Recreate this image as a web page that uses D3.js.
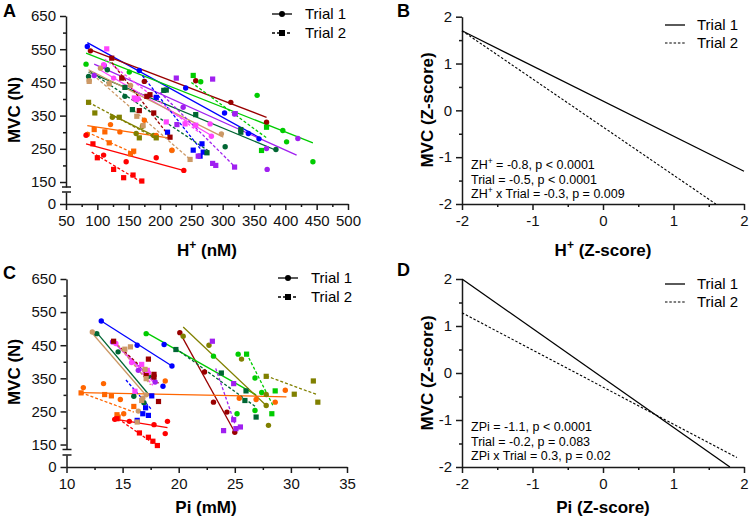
<!DOCTYPE html>
<html>
<head>
<meta charset="utf-8">
<script src="https://cdn.jsdelivr.net/npm/d3@7/dist/d3.min.js"></script>
<style>
  body { margin: 0; background: #fff; }
  svg text { font-family: "Liberation Sans", Arial, sans-serif; }
</style>
</head>
<body>
<script>
// Subject colours (same order in every array below)
const subjectColors = ["#0000ff", "#990000", "#00cc00", "#006633", "#a020f0",
                       "#ff44ff", "#cc9966", "#808000", "#ff6600", "#ff0000"];

// Panel A: H+ (nM) vs MVC (N). One list of [x, y] per subject.
const hTrial1 = [
  [[84,558],[167,486],[241,433],[303,358],[341,296],[358,280]],
  [[89,545],[175,453],[257,455],[313,390],[370,330]],
  [[82,505],[151,481],[265,452],[355,411],[396,305],[402,271],[444,211]],
  [[86,468],[116,488],[144,408],[304,256],[385,248]],
  [[95,471],[111,501],[237,375],[319,355],[370,251],[420,281],[371,188]],
  [[110,503],[126,463],[165,401],[280,325],[282,288]],
  [[87,455],[105,493],[153,441],[219,245],[298,295]],
  [[124,345],[162,296],[172,318],[190,290]],
  [[84,293],[121,323],[136,301],[175,336],[194,290],[219,246]],
  [[82,291],[110,231],[146,211],[194,223],[238,185]]
];
const hTrial2 = [
  [[194,405],[212,300],[253,246],[267,265],[269,240],[264,228]],
  [[123,523],[139,463],[167,365],[179,408],[184,413],[190,358],[216,285]],
  [[253,471],[370,315],[362,245]],
  [[144,435],[156,368],[206,426],[210,427],[257,353],[275,238],[329,308],[329,300]],
  [[226,463],[227,323],[261,228],[284,206],[289,200],[319,195],[320,356],[284,460]],
  [[115,551],[159,403],[162,398],[210,331],[240,325],[257,321]],
  [[87,453],[119,446],[163,348],[173,320],[248,218]],
  [[86,390],[96,358],[135,345],[167,283],[194,283]],
  [[95,308],[112,301],[119,268],[153,235],[158,243]],
  [[93,265],[100,223],[126,188],[142,163],[157,171],[171,153]]
];
// fitted lines: [xStart, yStart, xEnd, yEnd]
const hFit1 = [
  [84,570,360,282],[89,548,370,345],[82,538,444,268],[86,481,386,245],[95,505,418,231],
  [104,488,282,290],[86,488,301,285],[120,355,195,285],[84,320,213,283],[82,265,237,185]
];
const hFit2 = [
  [172,470,272,232],[123,510,216,285],[250,450,370,283],[88,483,278,243],[200,420,320,195],
  [112,520,262,300],[87,483,250,215],[86,390,195,280],[84,300,160,235],[91,240,172,148]
];

// Panel C: Pi (mM) vs MVC (N)
const piTrial1 = [
  [[13.1,523],[16.3,450],[18.7,452],[19.4,387],[18.6,326]],
  [[20.1,488],[22.3,369],[23.1,278],[24.3,248],[25.0,187]],
  [[17.1,485],[23.1,417],[25.3,423],[26.8,351],[27.4,307],[26.8,253],[25.2,243]],
  [[12.7,485],[14.6,430],[16.0,296],[16.9,276],[17.3,356]],
  [[14.1,460],[16.4,374],[17.9,339]],
  [[14.4,455],[15.8,398],[17.3,367]],
  [[12.3,490],[16.4,251],[16.8,290],[17.1,300]],
  [[20.4,477],[22.7,450],[25.6,408],[27.8,301],[27.8,268],[28.0,208]],
  [[11.5,322],[13.3,334],[14.8,286],[15.1,243],[18.8,342],[25.4,290],[26.9,286],[28.6,278],[29.5,314]],
  [[14.3,226],[15.6,220],[17.8,210],[19.0,220],[18.8,183]]
];
const piTrial2 = [
  [[16.3,223],[16.8,243],[17.05,261],[17.3,238],[17.6,297]],
  [[14.2,462],[17.3,408],[17.1,362],[17.8,362],[17.8,354],[18.2,280]],
  [[26.05,423],[28.6,312],[28.3,243]],
  [[19.75,437],[23.8,366],[26.0,312],[25.9,283],[26.9,233]],
  [[23.0,462],[24.9,334],[24.9,225],[24.0,192],[25.1,198],[25.5,203]],
  [[16.7,392],[17.2,374],[16.1,311]],
  [[15.2,438],[15.7,445],[17.0,377],[17.1,349],[16.7,283],[16.3,218]],
  [[27.8,356],[30.3,302],[32.0,342],[32.4,278]],
  [[11.3,306],[13.4,301],[14.0,297],[16.0,265],[14.5,240],[14.6,233]],
  [[14.5,228],[16.5,185],[17.3,172],[17.7,160],[18.1,147]]
];
const piFit1 = [
  [13.1,523,19.4,387],[20.1,488,25.0,187],[17.1,488,26.9,300],[12.7,488,17.4,298],[14.1,462,17.9,339],
  [14.2,460,17.7,340],[12.2,490,17.1,298],[20.4,505,27.8,268],[11.3,307,29.6,294],[14.3,227,19.0,201]
];
const piFit2 = [
  [15.3,345,17.6,255],[14.2,462,18.2,335],[26.05,425,28.4,268],[19.75,440,26.9,263],[23.3,380,25.0,213],
  [14.9,435,17.7,329],[14.3,462,17.5,330],[27.8,357,32.4,300],[11.3,307,16.0,248],[14.6,228,18.1,145]
];

// Panels B and D: model lines in Z-scores
const zhTrial1 = [[-2, 1.7], [2, -1.3]];
const zhTrial2 = [[-2, 1.7], [1.6, -2]];
const zpiTrial1 = [[-2, 2], [1.8, -2]];
const zpiTrial2 = [[-2, 1.28], [1.9, -1.8]];
const zhStats = [["ZH", "+", " = -0.8, p < 0.0001"], ["Trial = -0.5, p < 0.0001", "", ""], ["ZH", "+", " x Trial = -0.3, p = 0.009"]];
const zpiStats = ["ZPi = -1.1, p < 0.0001", "Trial = -0.2, p = 0.083", "ZPi x Trial = 0.3, p = 0.02"];

// Tick labels
const mvcTicks = [150, 250, 350, 450, 550, 650];
const mvcMinor = [200, 300, 400, 500, 600];
const hTicks = d3.range(50, 501, 50);
const hMinor = d3.range(75, 500, 50);
const piTicks = [10, 15, 20, 25, 30, 35];
const piMinor = [12.5, 17.5, 22.5, 27.5, 32.5];
const zTicks = [-2, -1, 0, 1, 2];
const zMinor = [-1.5, -0.5, 0.5, 1.5];

const svg = d3.select("body").append("svg").attr("width", 750).attr("height", 519);
const ink = "#1a1a1a";
const plainNum = d => String(d);

function styleAxis(g) {
  g.attr("font-family", null).attr("font-size", null);
  g.select(".domain").attr("stroke", ink).attr("stroke-width", 1.5);
  g.selectAll(".tick line").attr("stroke", ink).attr("stroke-width", 1.5);
  g.selectAll(".tick text").attr("font-size", 15).attr("fill", "#111");
}

function drawAxis(axis, minorAxis, transform) {
  const g = svg.append("g").attr("transform", transform).call(axis);
  styleAxis(g);
  const m = svg.append("g").attr("transform", transform).call(minorAxis);
  styleAxis(m);
  m.select(".domain").remove();
}

function label(text, x, y, size, anchor) {
  return svg.append("text").attr("x", x).attr("y", y).attr("font-size", size)
    .attr("font-weight", "bold").attr("text-anchor", anchor || "start").text(text);
}

function superTitle(x, y, base, sup, rest, rotate) {
  const t = svg.append("text").attr("font-size", 17).attr("font-weight", "bold")
    .attr("text-anchor", "middle");
  if (rotate) t.attr("transform", "translate(" + x + "," + y + ") rotate(-90)");
  else t.attr("x", x).attr("y", y);
  t.append("tspan").text(base);
  if (sup) {
    t.append("tspan").attr("dy", -7).attr("font-size", 12).text(sup);
    t.append("tspan").attr("dy", 7).text(rest);
  }
  return t;
}

// Scatter panels with broken y axis
function scatterPanel(p) {
  const x = p.x, y = p.y, y0 = p.y0;
  const x0 = x.range()[0];

  // y axis upper segment
  drawAxis(d3.axisLeft(y).tickValues(mvcTicks).tickFormat(plainNum).tickSize(6).tickPadding(4).tickSizeOuter(0),
           d3.axisLeft(y).tickValues(mvcMinor).tickSize(3).tickFormat(""),
           "translate(" + x0 + ",0)");
  // y axis lower segment (0)
  drawAxis(d3.axisLeft(y0).tickValues([0]).tickFormat(plainNum).tickSize(6).tickPadding(4).tickSizeOuter(0),
           d3.axisLeft(y0).tickValues([]).tickSize(0),
           "translate(" + x0 + ",0)");
  // break marks
  [y(135), y0(35)].forEach(function(v) {
    svg.append("line").attr("x1", x0 - 4).attr("x2", x0 + 5).attr("y1", v).attr("y2", v)
      .attr("stroke", ink).attr("stroke-width", 1.5);
  });
  // x axis
  drawAxis(d3.axisBottom(x).tickValues(p.ticks).tickFormat(plainNum).tickSize(6).tickPadding(5).tickSizeOuter(0),
           d3.axisBottom(x).tickValues(p.minor).tickSize(3).tickFormat(""),
           "translate(0," + y0(0) + ")");

  const line = d3.line().x(d => x(d[0])).y(d => y(d[1]));
  const plot = svg.append("g");

  p.fit1.forEach(function(f, i) {
    plot.append("path").attr("d", line([[f[0], f[1]], [f[2], f[3]]]))
      .attr("stroke", subjectColors[i]).attr("stroke-width", 1.3).attr("fill", "none");
  });
  p.fit2.forEach(function(f, i) {
    plot.append("path").attr("d", line([[f[0], f[1]], [f[2], f[3]]]))
      .attr("stroke", subjectColors[i]).attr("stroke-width", 1.3).attr("fill", "none")
      .attr("stroke-dasharray", "3,2");
  });
  p.t1.forEach(function(pts, i) {
    plot.selectAll(null).data(pts).enter().append("circle")
      .attr("cx", d => x(d[0])).attr("cy", d => y(d[1])).attr("r", 2.7)
      .attr("fill", subjectColors[i]);
  });
  p.t2.forEach(function(pts, i) {
    plot.selectAll(null).data(pts).enter().append("rect")
      .attr("x", d => x(d[0]) - 2.6).attr("y", d => y(d[1]) - 2.6)
      .attr("width", 5.2).attr("height", 5.2).attr("fill", subjectColors[i]);
  });

  // legend
  const lg = svg.append("g").attr("transform", "translate(" + p.legend[0] + "," + p.legend[1] + ")");
  lg.append("line").attr("x1", 0).attr("x2", 20).attr("y1", 0).attr("y2", 0).attr("stroke", "#000").attr("stroke-width", 1.3);
  lg.append("circle").attr("cx", 10).attr("cy", 0).attr("r", 3).attr("fill", "#000");
  lg.append("line").attr("x1", 0).attr("x2", 20).attr("y1", 19).attr("y2", 19).attr("stroke", "#000")
    .attr("stroke-width", 1.3).attr("stroke-dasharray", "3,2");
  lg.append("rect").attr("x", 7).attr("y", 16).attr("width", 6).attr("height", 6).attr("fill", "#000");
  lg.append("text").attr("x", 33).attr("y", 5).attr("font-size", 15).text("Trial 1");
  lg.append("text").attr("x", 33).attr("y", 24).attr("font-size", 15).text("Trial 2");
}

// Z-score panels
function zPanel(p) {
  const x = p.x, y = p.y;
  drawAxis(d3.axisLeft(y).tickValues(zTicks).tickFormat(plainNum).tickSize(6).tickPadding(4).tickSizeOuter(0),
           d3.axisLeft(y).tickValues(zMinor).tickSize(3).tickFormat(""),
           "translate(" + x.range()[0] + ",0)");
  drawAxis(d3.axisBottom(x).tickValues(zTicks).tickFormat(plainNum).tickSize(6).tickPadding(5).tickSizeOuter(0),
           d3.axisBottom(x).tickValues(zMinor).tickSize(3).tickFormat(""),
           "translate(0," + y(-2) + ")");

  const line = d3.line().x(d => x(d[0])).y(d => y(d[1]));
  svg.append("path").attr("d", line(p.t1)).attr("stroke", "#000").attr("stroke-width", 1.3).attr("fill", "none");
  svg.append("path").attr("d", line(p.t2)).attr("stroke", "#000").attr("stroke-width", 1.1)
    .attr("fill", "none").attr("stroke-dasharray", "2.5,1.8");

  const lg = svg.append("g").attr("transform", "translate(" + p.legend[0] + "," + p.legend[1] + ")");
  lg.append("line").attr("x1", 0).attr("x2", 20).attr("y1", 0).attr("y2", 0).attr("stroke", "#000").attr("stroke-width", 1.3);
  lg.append("line").attr("x1", 0).attr("x2", 20).attr("y1", 18).attr("y2", 18).attr("stroke", "#000")
    .attr("stroke-width", 1.1).attr("stroke-dasharray", "2.5,1.8");
  lg.append("text").attr("x", 32).attr("y", 5).attr("font-size", 15).text("Trial 1");
  lg.append("text").attr("x", 32).attr("y", 23).attr("font-size", 15).text("Trial 2");
}

// ---- Panel A
scatterPanel({
  x: d3.scaleLinear().domain([50, 500]).range([66, 348]),
  y: d3.scaleLinear().domain([135, 650]).range([187, 16]),
  y0: d3.scaleLinear().domain([0, 35]).range([204, 192]),
  ticks: hTicks, minor: hMinor,
  t1: hTrial1, t2: hTrial2, fit1: hFit1, fit2: hFit2,
  legend: [272, 14]
});
label("A", 3, 17, 18);
superTitle(20, 110, "MVC (N)", null, null, true);
superTitle(207, 256, "H", "+", " (nM)");

// ---- Panel C
scatterPanel({
  x: d3.scaleLinear().domain([10, 35]).range([66.5, 347]),
  y: d3.scaleLinear().domain([135, 650]).range([449.5, 279]),
  y0: d3.scaleLinear().domain([0, 35]).range([467, 455]),
  ticks: piTicks, minor: piMinor,
  t1: piTrial1, t2: piTrial2, fit1: piFit1, fit2: piFit2,
  legend: [278, 278]
});
label("C", 3, 279, 18);
superTitle(20, 372, "MVC (N)", null, null, true);
superTitle(206, 513, "Pi (mM)");

// ---- Panel B
zPanel({
  x: d3.scaleLinear().domain([-2, 2]).range([462, 744]),
  y: d3.scaleLinear().domain([-2, 2]).range([204, 16.7]),
  t1: zhTrial1, t2: zhTrial2, legend: [665, 25]
});
label("B", 397, 17, 18);
superTitle(433, 110, "MVC (Z-score)", null, null, true);
superTitle(603, 256, "H", "+", " (Z-score)");
zhStats.forEach(function(s, i) {
  const t = svg.append("text").attr("x", 471).attr("y", 169 + i * 14.5).attr("font-size", 12.5);
  t.append("tspan").text(s[0]);
  if (s[1]) {
    t.append("tspan").attr("dy", -5).attr("font-size", 8.5).text(s[1]);
    t.append("tspan").attr("dy", 5).text(s[2]);
  }
});

// ---- Panel D
zPanel({
  x: d3.scaleLinear().domain([-2, 2]).range([462, 744]),
  y: d3.scaleLinear().domain([-2, 2]).range([467, 279]),
  t1: zpiTrial1, t2: zpiTrial2, legend: [665, 284]
});
label("D", 397, 276, 18);
superTitle(433, 373, "MVC (Z-score)", null, null, true);
superTitle(603, 513, "Pi (Z-score)");
zpiStats.forEach(function(s, i) {
  svg.append("text").attr("x", 471).attr("y", 431 + i * 14.5).attr("font-size", 12.5).text(s);
});
</script>
</body>
</html>
